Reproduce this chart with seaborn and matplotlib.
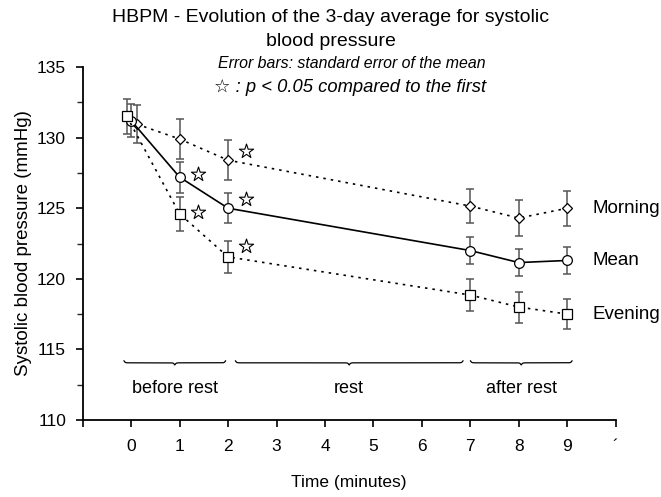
import numpy as np
import pandas as pd
import matplotlib
matplotlib.use("Agg")
import matplotlib.pyplot as plt
import seaborn as sns

# valeurs
time_mean = [0, 1, 2, 7, 8, 9]
time_morning = [0.12, 1, 2, 7, 8, 9]
time_evening = [-0.09, 1, 2, 7, 8, 9]

mean_bp = [131.2, 127.2, 125.0, 122.0, 121.15, 121.3]
mean_se = [1.15, 1.1, 1.05, 0.95, 0.95, 0.95]
morning_bp = [130.95, 129.9, 128.4, 125.15, 124.3, 125.0]
morning_se = [1.35, 1.4, 1.4, 1.2, 1.25, 1.25]
evening_bp = [131.5, 124.6, 121.55, 118.85, 118.0, 117.5]
evening_se = [1.25, 1.2, 1.15, 1.15, 1.1, 1.05]

# etoiles p < 0.05
star_x = [1.37, 1.37, 2.37, 2.37, 2.37]
star_y = [127.45, 124.7, 129.05, 125.65, 122.35]

# accolades
phase_names = ["before rest", "rest", "after rest"]
phase_start = [-0.15, 2.15, 7.0]
phase_end = [1.95, 6.85, 9.1]

xtick_pos = list(range(-1, 11))
xtick_labels = [""] + [str(i) for i in range(10)] + ["´"]

sns.set_theme(style="ticks")
plt.rcParams["font.family"] = ["Liberation Sans", "DejaVu Sans"]
plt.rcParams["text.color"] = "black"
plt.rcParams["axes.labelcolor"] = "black"

fig = plt.figure(figsize=(6.61, 4.97), dpi=100)
ax = fig.add_axes([0.1251, 0.1549, 0.8064, 0.7103])

series = [
    ("Morning", time_morning, morning_bp, morning_se, "D", 5.5, (0, (1.5, 3))),
    ("Mean", time_mean, mean_bp, mean_se, "o", 7, "-"),
    ("Evening", time_evening, evening_bp, evening_se, "s", 6.5, (0, (1.5, 3))),
]

for name, xs, ys, es, mk, ms, ls in series:
    ax.errorbar(xs, ys, yerr=es, fmt="none", ecolor="#555555", elinewidth=1.1,
                capsize=3, capthick=1.1, zorder=2)
    df = pd.DataFrame({"time": xs, "bp": ys})
    sns.lineplot(data=df, x="time", y="bp", ax=ax, color="black", linewidth=1.2,
                 linestyle=ls, marker=mk, markersize=ms, markerfacecolor="white",
                 markeredgecolor="black", markeredgewidth=0.9, zorder=3)
    ax.text(9.52, ys[-1], name, fontsize=13.5, va="center", ha="left")

ax.scatter(star_x, star_y, marker="*", s=115, facecolor="white",
           edgecolor="black", linewidth=0.8, zorder=4)


def brace(ax, x0, x1, y, h, beta=70):
    half = (x1 - x0) / 2
    t = np.linspace(0, half, 200)
    yh = 1 / (1 + np.exp(-beta * (t - t[0]))) + 1 / (1 + np.exp(-beta * (t - t[-1])))
    yy = np.concatenate((yh, yh[-2::-1]))
    xx = np.concatenate((x0 + t, x0 + half + t[1:]))
    yy = y - (yy - 0.5) * h
    ax.plot(xx, yy, color="black", lw=0.9, zorder=2)


for name, a, b in zip(phase_names, phase_start, phase_end):
    brace(ax, a, b, 114.2, 0.3)
    ax.text((a + b) / 2, 112.25, name, ha="center", va="center", fontsize=13)

ax.set_xlim(-1, 10)
ax.set_ylim(110, 135)
ax.set_xticks(xtick_pos)
ax.set_xticklabels(xtick_labels)
ax.set_yticks([110, 115, 120, 125, 130, 135])
ax.set_yticks(np.arange(110, 135, 2.5), minor=True)
ax.tick_params(axis="both", labelsize=12.5, width=1.2, length=5, colors="black")
ax.tick_params(axis="y", which="minor", width=1.0, length=4)
ax.tick_params(axis="x", pad=9)
ax.tick_params(axis="y", pad=7)
for s in ["left", "bottom"]:
    ax.spines[s].set_linewidth(1.3)
    ax.spines[s].set_color("black")
sns.despine(ax=ax)

ax.set_xlabel("Time (minutes)", fontsize=12.5, labelpad=15)
ax.set_ylabel("Systolic blood pressure (mmHg)", fontsize=13.5, labelpad=3.5)

fig.text(0.5, 1 - 17 / 497, "HBPM - Evolution of the 3-day average for systolic",
         ha="center", va="center", fontsize=14)
fig.text(0.5, 1 - 42 / 497, "blood pressure", ha="center", va="center", fontsize=14)
fig.text(0.532, 1 - 63 / 497, "Error bars: standard error of the mean", ha="center",
         va="center", fontsize=11.4, style="italic")
fig.text(0.529, 1 - 88 / 497, "☆ : p < 0.05 compared to the first", ha="center",
         va="center", fontsize=13.2, style="italic")

fig.savefig("out.png", dpi=100)
